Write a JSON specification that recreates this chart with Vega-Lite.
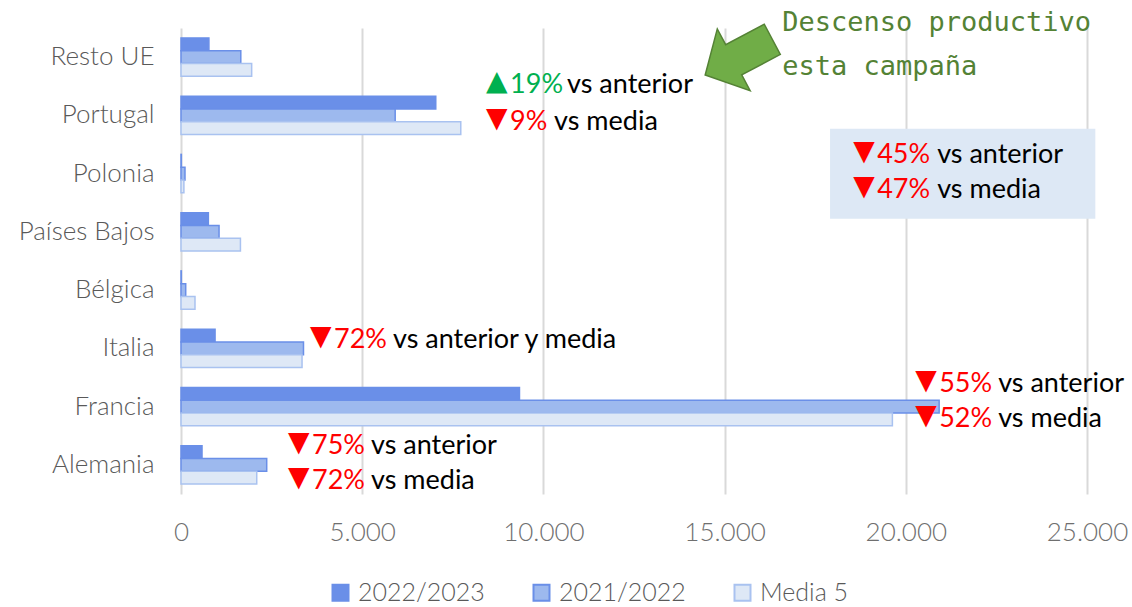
{
  "$schema": "https://vega.github.io/schema/vega-lite/v6.json",
  "width": 906,
  "height": 466,
  "autosize": "none",
  "padding": {"left": 181, "top": 28, "right": 45, "bottom": 113},
  "background": "white",
  "config": {
    "view": {"stroke": null},
    "font": "Lato",
    "axisX": {"grid": true, "gridColor": "#d9d9d9", "gridWidth": 2, "domain": false, "ticks": false, "labelFont": "Lato", "labelFontWeight": 300, "labelColor": "#6f6f6f", "labelFontSize": 26},
    "axisY": {"grid": false, "domain": false, "ticks": false, "labelFont": "Lato", "labelFontWeight": 300, "labelColor": "#595959", "labelFontSize": 26},
    "legend": {"labelFont": "Lato", "labelFontWeight": 300, "labelColor": "#595959", "labelFontSize": 25}
  },
  "datasets": {
    "barras": [
      {"pais": "Resto UE", "serie": "2022/2023", "valor": 770},
      {"pais": "Resto UE", "serie": "2021/2022", "valor": 1650},
      {"pais": "Resto UE", "serie": "Media 5", "valor": 1950},
      {"pais": "Portugal", "serie": "2022/2023", "valor": 7030},
      {"pais": "Portugal", "serie": "2021/2022", "valor": 5910},
      {"pais": "Portugal", "serie": "Media 5", "valor": 7720},
      {"pais": "Polonia", "serie": "2022/2023", "valor": 10},
      {"pais": "Polonia", "serie": "2021/2022", "valor": 110},
      {"pais": "Polonia", "serie": "Media 5", "valor": 80},
      {"pais": "Países Bajos", "serie": "2022/2023", "valor": 755},
      {"pais": "Países Bajos", "serie": "2021/2022", "valor": 1050},
      {"pais": "Países Bajos", "serie": "Media 5", "valor": 1640},
      {"pais": "Bélgica", "serie": "2022/2023", "valor": 10},
      {"pais": "Bélgica", "serie": "2021/2022", "valor": 130},
      {"pais": "Bélgica", "serie": "Media 5", "valor": 386},
      {"pais": "Italia", "serie": "2022/2023", "valor": 940},
      {"pais": "Italia", "serie": "2021/2022", "valor": 3380},
      {"pais": "Italia", "serie": "Media 5", "valor": 3340},
      {"pais": "Francia", "serie": "2022/2023", "valor": 9340},
      {"pais": "Francia", "serie": "2021/2022", "valor": 20920},
      {"pais": "Francia", "serie": "Media 5", "valor": 19630},
      {"pais": "Alemania", "serie": "2022/2023", "valor": 580},
      {"pais": "Alemania", "serie": "2021/2022", "valor": 2365},
      {"pais": "Alemania", "serie": "Media 5", "valor": 2090}
    ],
    "notas": [
      {"pais": "Portugal", "linea": "a", "x": 8418, "xt": 10654, "pct": "19%", "texto": "vs anterior", "tono": "sube"},
      {"pais": "Portugal", "linea": "b", "x": 8418, "xt": 10295, "pct": "9%", "texto": "vs media", "tono": "baja"},
      {"pais": "Polonia", "linea": "a", "x": 18547, "xt": 20866, "pct": "45%", "texto": "vs anterior", "tono": "baja"},
      {"pais": "Polonia", "linea": "b", "x": 18547, "xt": 20866, "pct": "47%", "texto": "vs media", "tono": "baja"},
      {"pais": "Italia", "linea": "u", "x": 3560, "xt": 5851, "pct": "72%", "texto": "vs anterior y media", "tono": "baja"},
      {"pais": "Francia", "linea": "a", "x": 20258, "xt": 22549, "pct": "55%", "texto": "vs anterior", "tono": "baja"},
      {"pais": "Francia", "linea": "b", "x": 20258, "xt": 22549, "pct": "52%", "texto": "vs media", "tono": "baja"},
      {"pais": "Alemania", "linea": "a", "x": 2953, "xt": 5244, "pct": "75%", "texto": "vs anterior", "tono": "baja"},
      {"pais": "Alemania", "linea": "b", "x": 2953, "xt": 5244, "pct": "72%", "texto": "vs media", "tono": "baja"}
    ]
  },
  "layer": [
    {
      "data": {"values": [{}]},
      "mark": {"type": "bar", "height": 90, "color": "#dde8f5"},
      "encoding": {
        "y": {"datum": "Polonia", "type": "nominal"},
        "x": {"datum": 17910, "type": "quantitative"},
        "x2": {"datum": 25230}
      }
    },
    {
      "data": {"name": "barras"},
      "mark": {"type": "bar", "strokeWidth": 1.5},
      "encoding": {
        "y": {
          "field": "pais", "type": "nominal", "title": null,
          "scale": {"domain": ["Resto UE", "Portugal", "Polonia", "Países Bajos", "Bélgica", "Italia", "Francia", "Alemania"], "paddingInner": 0.34, "paddingOuter": 0.17},
          "axis": {"labelPadding": 27}
        },
        "yOffset": {
          "field": "serie", "type": "nominal",
          "scale": {"domain": ["2022/2023", "2021/2022", "Media 5"], "paddingInner": 0, "paddingOuter": 0}
        },
        "x": {
          "field": "valor", "type": "quantitative", "title": null,
          "scale": {"domain": [0, 25000], "nice": false},
          "axis": {"values": [0, 5000, 10000, 15000, 20000, 25000], "labelPadding": 25, "labelExpr": "replace(format(datum.value, ','), ',', '.')", "labelFlush": false}
        },
        "fill": {
          "field": "serie", "type": "nominal",
          "scale": {"domain": ["2022/2023", "2021/2022", "Media 5"], "range": ["#6a8fe8", "#9db9ee", "#dee8f6"]},
          "legend": {"title": null, "orient": "none", "direction": "horizontal", "legendX": 147, "legendY": 552, "symbolType": "square", "symbolSize": 256, "symbolStrokeWidth": 2, "labelOffset": 5, "columnPadding": 44}
        },
        "stroke": {
          "field": "serie", "type": "nominal",
          "scale": {"domain": ["2022/2023", "2021/2022", "Media 5"], "range": ["#6a8fe8", "#6a8fe8", "#a9c2f0"]},
          "legend": {"title": null, "orient": "none", "direction": "horizontal", "legendX": 147, "legendY": 552, "symbolType": "square", "symbolSize": 256, "symbolStrokeWidth": 2, "labelOffset": 5, "columnPadding": 44}
        }
      }
    },
    {
      "data": {"name": "notas"},
      "mark": {"type": "text", "align": "left", "fontSize": 28, "font": "DejaVu Sans",
        "dy": {"expr": "(datum.pais == 'Portugal' ? (datum.linea == 'a' ? -30 : 7) : datum.pais == 'Italia' ? -8 : datum.pais == 'Francia' ? (datum.linea == 'a' ? -23 : 12) : (datum.linea == 'a' ? -19 : 16)) - 3"}},
      "encoding": {
        "y": {"field": "pais", "type": "nominal"},
        "x": {"field": "x", "type": "quantitative"},
        "text": {"condition": {"test": "datum.tono == 'sube'", "value": "▲"}, "value": "▼"},
        "color": {"condition": {"test": "datum.tono == 'sube'", "value": "#00b050"}, "value": "#ff0000"}
      }
    },
    {
      "data": {"name": "notas"},
      "mark": {"type": "text", "align": "left", "dx": 24, "fontSize": 27, "font": "Lato",
        "dy": {"expr": "datum.pais == 'Portugal' ? (datum.linea == 'a' ? -30 : 7) : datum.pais == 'Italia' ? -8 : datum.pais == 'Francia' ? (datum.linea == 'a' ? -23 : 12) : (datum.linea == 'a' ? -19 : 16)"}},
      "encoding": {
        "y": {"field": "pais", "type": "nominal"},
        "x": {"field": "x", "type": "quantitative"},
        "text": {"field": "pct"},
        "color": {"condition": {"test": "datum.tono == 'sube'", "value": "#00b050"}, "value": "#ff0000"}
      }
    },
    {
      "data": {"name": "notas"},
      "mark": {"type": "text", "align": "left", "fontSize": 27, "font": "Lato", "color": "#000000",
        "dy": {"expr": "datum.pais == 'Portugal' ? (datum.linea == 'a' ? -30 : 7) : datum.pais == 'Italia' ? -8 : datum.pais == 'Francia' ? (datum.linea == 'a' ? -23 : 12) : (datum.linea == 'a' ? -19 : 16)"}},
      "encoding": {
        "y": {"field": "pais", "type": "nominal"},
        "x": {"field": "xt", "type": "quantitative"},
        "text": {"field": "texto"}
      }
    },
    {
      "data": {"values": [{}]},
      "mark": {"type": "point", "filled": true, "size": 5776, "angle": 152, "fill": "#70ad47", "stroke": "#548235", "strokeWidth": 1.5, "opacity": 1,
        "shape": "M -1 -0.45 L 0.15 -0.45 L 0.15 -0.92 L 1 0 L 0.15 0.92 L 0.15 0.45 L -1 0.45 Z"},
      "encoding": {
        "y": {"datum": "Resto UE", "type": "nominal"},
        "x": {"datum": 15390, "type": "quantitative"}
      }
    },
    {
      "data": {"values": [{}]},
      "mark": {"type": "text", "align": "left", "baseline": "middle", "fontSize": 27, "font": "DejaVu Sans Mono", "color": "#548235", "lineHeight": 44, "dy": -34,
        "text": ["Descenso productivo", "esta campaña"]},
      "encoding": {
        "y": {"datum": "Resto UE", "type": "nominal"},
        "x": {"datum": 16590, "type": "quantitative"}
      }
    }
  ]
}
